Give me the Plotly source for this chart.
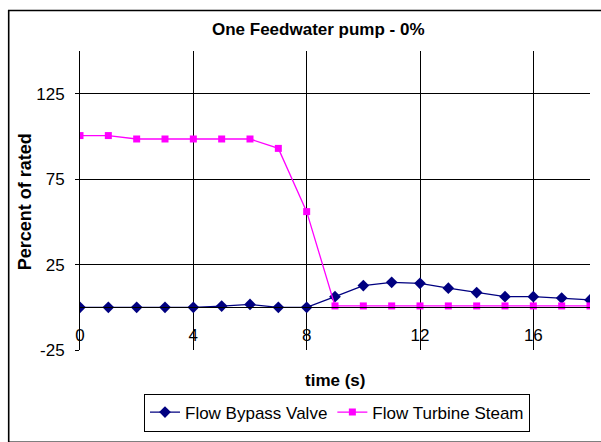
import plotly.graph_objects as go

# Time axis (s)
time_s = list(range(19))

# Flow through the bypass valve, percent of rated
bypass_valve = [0, 0, 0, 0, 0, 0.7, 1.7, 0, 0, 6.2, 12.7, 14.6, 14.0, 11.2, 8.6, 6.2, 6.2, 5.4, 4.3]

# Turbine steam flow, percent of rated
turbine_steam = [100.5, 100.5, 98.5, 98.5, 98.5, 98.5, 98.5, 93, 56,
                 0.8, 0.8, 0.8, 0.8, 0.8, 0.8, 0.8, 0.8, 0.8, 0.8]

# Axis ticks
x_ticks = [0, 4, 8, 12, 16]
y_ticks = [-25, 25, 75, 125]
y_tick_labels = ["-25", "25", "75", "125"]

FONT = "Liberation Sans, Arial, sans-serif"

fig = go.Figure()
fig.add_trace(go.Scatter(
    x=time_s, y=bypass_valve, name="Flow Bypass Valve",
    mode="lines+markers",
    line=dict(color="#000080", width=1.3),
    marker=dict(symbol="diamond", size=9, color="#000080"),
))
fig.add_trace(go.Scatter(
    x=time_s, y=turbine_steam, name="Flow Turbine Steam",
    mode="lines+markers",
    line=dict(color="#FF00FF", width=1.3),
    marker=dict(symbol="square", size=7, color="#FF00FF"),
))

# plot area geometry in pixels
L, R, T, B = 80, 11, 51, 78.5
W, H = 601, 442
pw, ph = W - L - R, H - T - B

def px_x(p):
    return (p - L) / pw

def px_y(p):
    return (H - B - p) / ph

fig.update_layout(
    width=W, height=H,
    margin=dict(l=L, r=R, t=T, b=B, pad=0),
    paper_bgcolor="white", plot_bgcolor="white",
    font=dict(family=FONT, size=17, color="black"),
    showlegend=True,
    legend=dict(
        orientation="h",
        x=px_x(144), xanchor="left",
        y=px_y(409), yanchor="top",
        bordercolor="black", borderwidth=1,
        font=dict(size=17),
        itemwidth=30,
        tracegroupgap=0,
    ),
    xaxis=dict(
        range=[0, 18], tickmode="array", tickvals=x_ticks,
        showgrid=True, gridcolor="black", gridwidth=1,
        zeroline=False,
        showline=True, linecolor="black", linewidth=1,
        anchor="free", position=25 / 175,
        ticks="", ticklabelstandoff=12,
        tickfont=dict(size=17),
        fixedrange=True,
    ),
    yaxis=dict(
        range=[-25, 150], tickmode="array", tickvals=y_ticks, ticktext=y_tick_labels,
        showgrid=True, gridcolor="black", gridwidth=1,
        zeroline=False,
        showline=True, linecolor="black", linewidth=1,
        ticks="outside", ticklen=4, tickcolor="black",
        ticklabelstandoff=7,
        tickfont=dict(size=17),
        fixedrange=True,
    ),
    annotations=[
        dict(text="<b>One Feedwater pump - 0%</b>", xref="paper", yref="paper",
             x=px_x(318.5), y=px_y(29), xanchor="center", yanchor="middle",
             showarrow=False, font=dict(size=17)),
        dict(text="<b>Percent of rated</b>", xref="paper", yref="paper",
             x=px_x(25), y=px_y(209), xanchor="center", yanchor="middle",
             textangle=-90, showarrow=False, font=dict(size=18)),
        dict(text="<b>time (s)</b>", xref="paper", yref="paper",
             x=px_x(335), y=px_y(395), xanchor="center", yanchor="middle",
             showarrow=False, font=dict(size=17)),
    ],
    shapes=[
        dict(type="rect", xref="paper", yref="paper",
             x0=px_x(8.7), x1=px_x(620), y0=px_y(460), y1=px_y(8.7),
             line=dict(color="black", width=1.6), fillcolor="rgba(0,0,0,0)"),
    ],
)

fig.write_html("out.html")
